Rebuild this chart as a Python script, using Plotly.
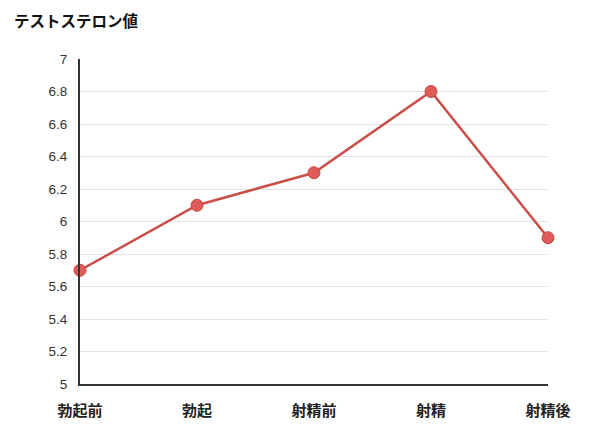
import plotly.graph_objects as go

categories = ["勃起前", "勃起", "射精前", "射精", "射精後"]
values = [5.7, 6.1, 6.3, 6.8, 5.9]
y_ticks = [5, 5.2, 5.4, 5.6, 5.8, 6, 6.2, 6.4, 6.6, 6.8, 7]
y_labels = ["5", "5.2", "5.4", "5.6", "5.8", "6", "6.2", "6.4", "6.6", "6.8", "7"]

font = "Noto Sans CJK JP"
num_font = "Liberation Sans, Noto Sans CJK JP"

fig = go.Figure()
fig.add_trace(go.Scatter(
    x=list(range(len(categories))), y=values, mode="lines+markers",
    line=dict(color="#c9504a", width=2.5),
    marker=dict(size=12, color="#e05a58", line=dict(color="#c24a46", width=1)),
    cliponaxis=False, hoverinfo="skip",
))

fig.update_layout(
    width=604, height=435,
    margin=dict(l=72, r=64, t=51, b=59, autoexpand=False),
    paper_bgcolor="white", plot_bgcolor="white",
    showlegend=False,
    font=dict(family=font, color="#222"),
    title=dict(text="<b>テストステロン値</b>", x=0.01, xanchor="left",
               y=0.968, yanchor="middle", font=dict(size=15.5, color="#111", family=font)),
)
fig.update_xaxes(
    range=[0, len(categories) - 1],
    tickmode="array", tickvals=list(range(len(categories))),
    ticktext=["<b>%s</b>" % c for c in categories],
    tickfont=dict(size=15, color="#222", family=font),
    showgrid=False, showline=True, linecolor="#333", linewidth=2,
    ticks="outside", ticklen=12, tickcolor="rgba(0,0,0,0)", zeroline=False,
    automargin=False,
)
fig.update_yaxes(
    range=[5, 7],
    tickmode="array", tickvals=y_ticks, ticktext=y_labels,
    tickfont=dict(size=13.5, color="#333", family=num_font),
    showgrid=True, gridcolor="#e3e3e3", gridwidth=1,
    showline=True, linecolor="#333", linewidth=2,
    ticks="outside", ticklen=8, tickcolor="rgba(0,0,0,0)", zeroline=False,
    automargin=False,
)

fig.write_html("out.html")
